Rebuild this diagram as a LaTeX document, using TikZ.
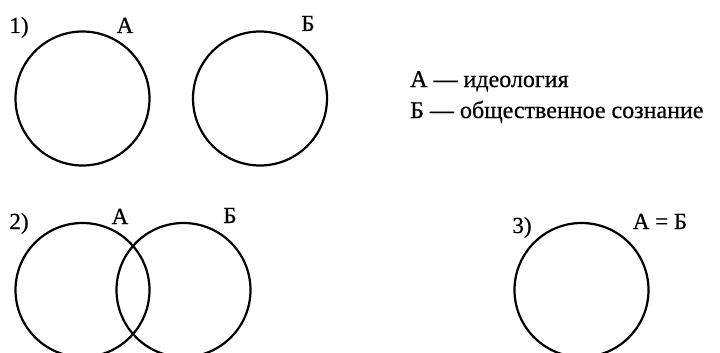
\documentclass[tikz,border=0pt]{standalone}
\usepackage{fontspec}
\setmainfont{Liberation Serif}[FakeBold=0.6]
\begin{document}
\begin{tikzpicture}[x=1pt,y=-1pt,
  venn/.style={circle, draw=black, line width=2.2pt, minimum size=134pt, inner sep=0pt},
  lbl/.style={anchor=base, inner sep=0pt, font=\fontsize{23}{26}\selectfont},
  leg/.style={anchor=base west, inner sep=0pt, font=\fontsize{24}{27}\selectfont}]
\useasboundingbox (0,0) rectangle (720,353);
% row 1
\node[venn] (a1) at (82.5,98.5) {};
\node[venn] (b1) at (260,98.5) {};
\node[lbl] (n1) at (19,33) {1)};
\node[lbl] (la1) at (125,33) {А};
\node[lbl] (lb1) at (308,31) {Б};
% legend
\node[leg] (legA) at (410,87) {А — идеология};
\node[leg] (legB) at (410,118) {Б — общественное сознание};
% row 2
\node[venn] (a2) at (82.5,290) {};
\node[venn] (b2) at (183.5,290) {};
\node[lbl] (n2) at (19,229) {2)};
\node[lbl] (la2) at (120,224) {А};
\node[lbl] (lb2) at (230,223) {Б};
% row 3
\node[venn] (c3) at (581.5,290) {};
\node[lbl] (n3) at (522,233) {3)};
\node[lbl] (lab3) at (660,229) {А = Б};
\end{tikzpicture}
\end{document}
